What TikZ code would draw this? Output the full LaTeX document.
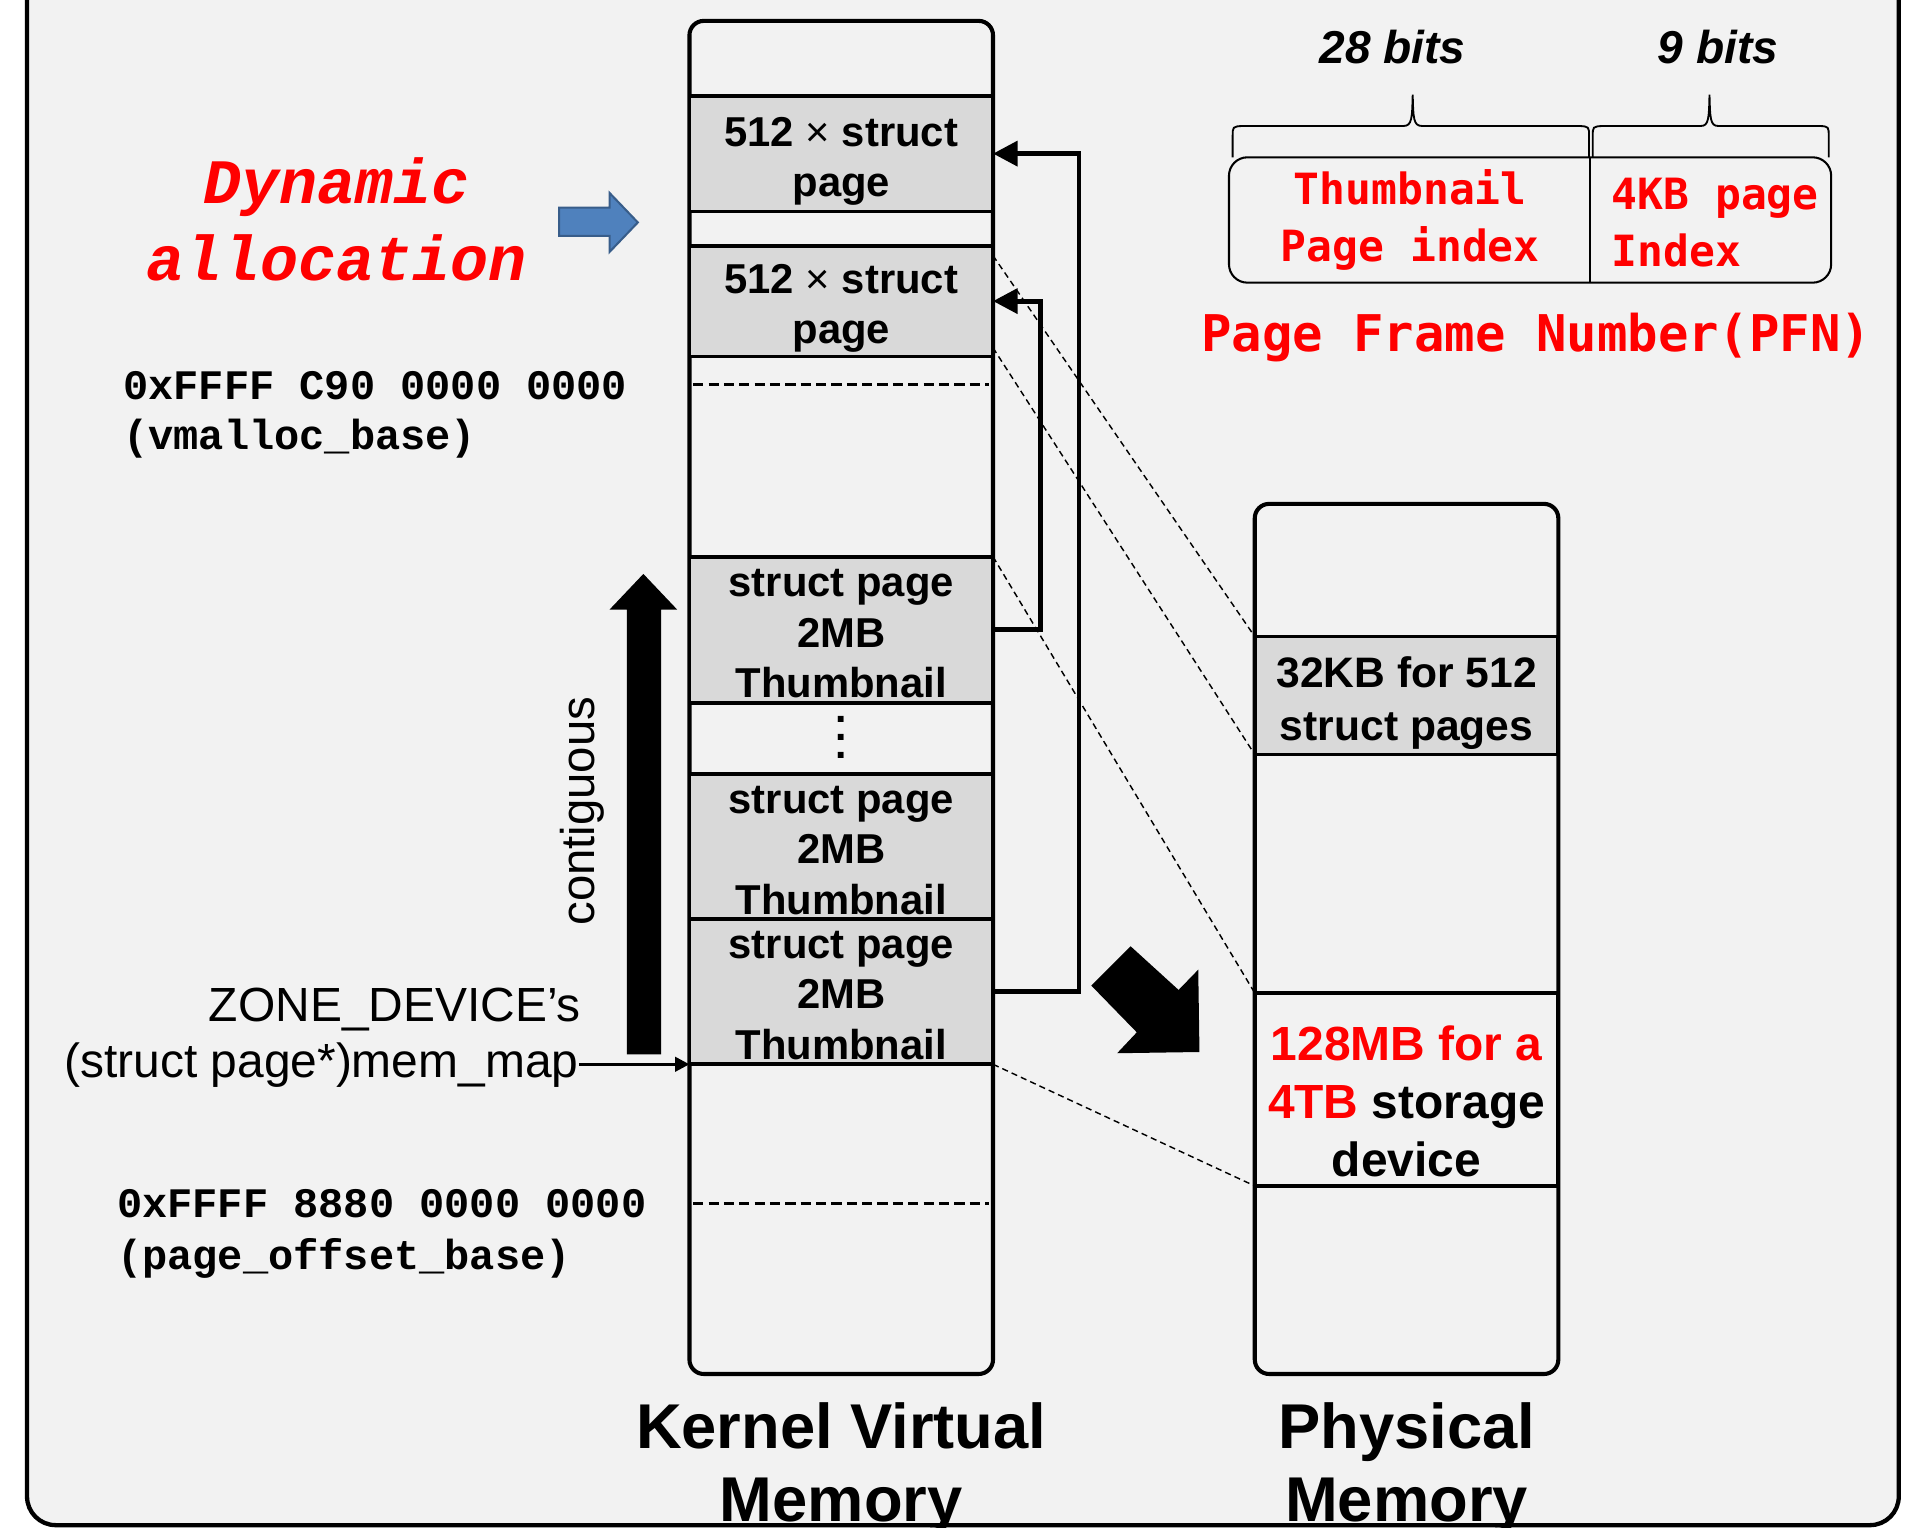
\documentclass[tikz,border=0pt]{standalone}
\usepackage{fontspec}
\setmainfont{Liberation Sans}
\newfontfamily\courfont{Liberation Mono}
\newfontfamily\dmono{DejaVu Sans Mono}
\usetikzlibrary{arrows.meta,calc}
\definecolor{bg}{HTML}{F2F2F2}
\definecolor{boxgray}{HTML}{D9D9D9}
\definecolor{pred}{HTML}{FF0000}
\definecolor{bfill}{HTML}{4F81BD}
\definecolor{bline}{HTML}{385D8A}
\begin{document}
\begin{tikzpicture}[x=0.6pt,y=-0.6pt,
  frame/.style={line width=2.1pt, fill=bg, rounded corners=14pt},
  membox/.style={draw, line width=2pt, fill=bg, rounded corners=7pt, minimum width={247*0.6pt}, inner sep=0pt, outer sep=0pt, anchor=north west},
  row/.style={draw, line width=1.8pt, minimum width={247*0.6pt}, inner sep=0pt, outer sep=0pt, anchor=north west, align=center},
  grayrow/.style={row, fill=boxgray},
  kvtext/.style={font=\bfseries\fontsize{20.4pt}{24.6pt}\selectfont},
  conn/.style={line width=2.4pt, -{Triangle[length=12pt,width=12pt]}},
  memarrow/.style={line width=1.5pt, -{Triangle[length=7pt,width=7pt]}},
  thindash/.style={line width=0.7pt, dash pattern=on 3pt off 2pt},
  rowdash/.style={line width=1.5pt, dash pattern=on 5pt off 2.5pt},
  addr/.style={font=\courfont\bfseries\fontsize{20.5pt}{24pt}\selectfont, inner sep=0pt},
  sanslbl/.style={font=\fontsize{23.4pt}{28pt}\selectfont, inner sep=0pt},
  biglbl/.style={font=\bfseries\fontsize{30.9pt}{36pt}\selectfont, align=center, inner sep=0pt},
  redmono/.style={font=\dmono\bfseries\fontsize{21pt}{27.6pt}\selectfont, text=pred, align=center, inner sep=0pt},
  bits/.style={font=\bfseries\itshape\fontsize{22.5pt}{27pt}\selectfont, inner sep=0pt},
  brace/.style={line width=0.9pt},
  bluearrow/.style={fill=bfill, draw=bline, line width=1pt}
]
\useasboundingbox (0,0) rectangle (1568,1243);
\fill[white] (0,0) rectangle (1568,1243);
\draw[frame] (22,-40) rectangle (1545,1241);

% Kernel virtual memory column
\node[membox, minimum height={1101*0.6pt}] (kvm) at (561,17) {};
\node[grayrow, kvtext, minimum height={94*0.6pt}] (g1) at (561,78) {\rule{0pt}{21.5pt}512 {\mdseries×} struct\\page};
\node[grayrow, kvtext, minimum height={90*0.6pt}] (g2) at (561,200) {\rule{0pt}{21.5pt}512 {\mdseries×} struct\\page};
\node[grayrow, kvtext, minimum height={119*0.6pt}] (g3) at (561,453) {\rule{0pt}{17pt}struct page\\2MB\\Thumbnail};
\node[grayrow, kvtext, minimum height={118*0.6pt}] (g4) at (561,630) {\rule{0pt}{17pt}struct page\\2MB\\Thumbnail};
\node[grayrow, kvtext, minimum height={118*0.6pt}] (g5) at (561,748) {\rule{0pt}{17pt}struct page\\2MB\\Thumbnail};
\node[font=\bfseries\fontsize{20pt}{9pt}\selectfont, align=center, inner sep=0pt] (vdots) at (684.5,600) {.\\.\\.};
\draw[rowdash] (564,313) -- (805,313);
\draw[rowdash] (564,979) -- (805,979);
\node[biglbl] (kvmlabel) at (684.5,1195) {Kernel Virtual\\Memory};

% Physical memory column
\node[membox, minimum height={708*0.6pt}] (phys) at (1021,410) {};
\node[grayrow, font=\bfseries\fontsize{20.8pt}{25.8pt}\selectfont, minimum height={96*0.6pt}] (p1) at (1021,518) {\rule{0pt}{22pt}32KB for 512\\struct pages};
\node[row, minimum height={157*0.6pt}] (p2) at (1021,808) {};
\node[font=\bfseries\fontsize{23.4pt}{28.2pt}\selectfont, align=center, inner sep=0pt] (p2t) at (1144.5,896) {\textcolor{pred}{128MB for a}\\\textcolor{pred}{4TB} storage\\device};
\node[biglbl] (physlabel) at (1144.5,1195) {Physical\\Memory};

% dashed mapping lines
\draw[thindash] ($(g2.north east)+(0,8)$) -- (p1.north west);
\draw[thindash] ($(g2.south east)+(0,-7)$) -- (p1.south west);
\draw[thindash] (g3.north east) -- (p2.north west);
\draw[thindash] (g5.south east) -- (p2.south west);

% pointer connectors
\coordinate (xo) at (878,0);
\coordinate (xi) at (847,0);
\draw[conn] (g5.east) -- (g5.east -| xo) |- (g1.east);
\draw[conn] (g3.east) -- (g3.east -| xi) |- (g2.east);

% dynamic allocation
\node[font=\courfont\bfseries\itshape\fontsize{30.9pt}{37.5pt}\selectfont, text=pred, align=center, inner sep=0pt] (dyn) at (274,178.5) {Dynamic\\allocation};
\draw[bluearrow] (455,169) -- (496,169) -- (496,157) -- (519,181) -- (496,205) -- (496,192) -- (455,192) -- cycle;

% addresses
\node[addr, anchor=base west] (vm1) at (100,325) {0xFFFF C90 0000 0000};
\node[addr, anchor=base west] (vm2) at (100,366) {(vmalloc\_base)};
\node[addr, anchor=base west] (po1) at (95,991) {0xFFFF 8880 0000 0000};
\node[addr, anchor=base west] (po2) at (95,1033) {(page\_offset\_base)};

% contiguous arrow and mem_map
\fill (510,858) -- (510,496) -- (496,496) -- (523.5,467) -- (551,496) -- (538,496) -- (538,858) -- cycle;
\node[font=\fontsize{23.1pt}{28pt}\selectfont, rotate=90, inner sep=0pt] (contig) at (474,660) {contiguous};
\node[sanslbl, anchor=base east] (zone) at (473,831) {ZONE\_DEVICE’s};
\node[sanslbl, anchor=base east] (mm) at (471,877) {(struct page*)mem\_map};
\draw[memarrow] (mm.east |- g5.south west) -- (g5.south west);

% big diagonal arrow
\fill (920,770) -- (959,805.5) -- (975,789) -- (976,856) -- (909,857) -- (925,840) -- (888,802) -- cycle;

% PFN
\node[draw, line width=1pt, rounded corners=9pt, minimum width={490*0.6pt}, minimum height={102*0.6pt}, inner sep=0pt, outer sep=0pt, anchor=north west] (pfn) at (1000,128) {};
\coordinate (div) at (1294,0);
\draw[line width=1pt] (pfn.north -| div) -- (pfn.south -| div);
\node[redmono] (thumb) at (1147.5,179) {Thumbnail\\Page index};
\node[redmono, align=left, anchor=west] (kbidx) at (1311,181) {4KB page\\Index};
\node[font=\dmono\bfseries\fontsize{24.7pt}{30pt}\selectfont, text=pred, inner sep=0pt] (pfnlbl) at (1250,275) {Page Frame Number(PFN)};
\node[bits] (b28) at (1133,38) {28 bits};
\node[bits] (b9) at (1398,38) {9 bits};
\draw[brace] (1003,128) -- (1003,111) .. controls (1003,103) .. (1011,102.5) -- (1142,102.5) .. controls (1149,102.5) and (1149,96) .. (1149.5,77) .. controls (1150,96) and (1150,102.5) .. (1157,102.5) -- (1285,102.5) .. controls (1293,103) .. (1293,111) -- (1293,128);
\draw[brace] (1296,128) -- (1296,111) .. controls (1296,103) .. (1304,102.5) -- (1384,102.5) .. controls (1390.5,102.5) and (1390.5,96) .. (1391,77) .. controls (1391.5,96) and (1391.5,102.5) .. (1398,102.5) -- (1481,102.5) .. controls (1488,103) .. (1488,111) -- (1488,128);
\end{tikzpicture}
\end{document}
